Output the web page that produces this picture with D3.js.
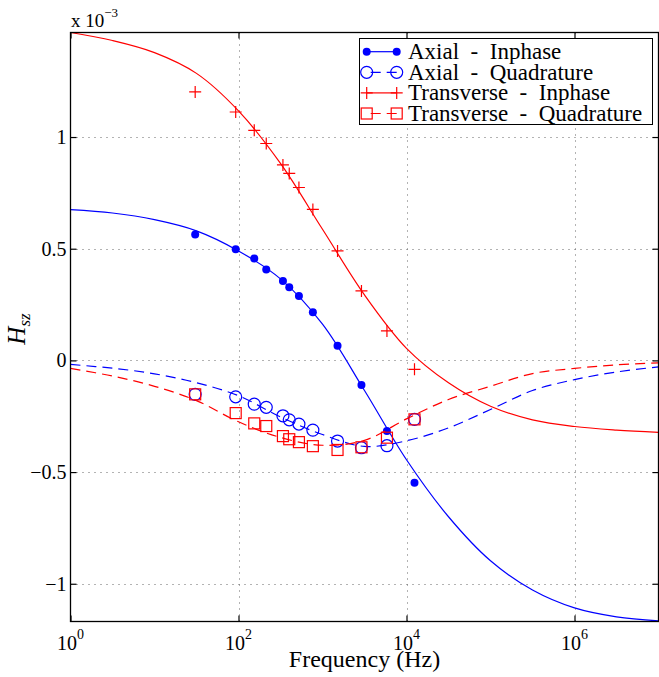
<!DOCTYPE html>
<html>
<head>
<meta charset="utf-8">
<script src="https://cdn.jsdelivr.net/npm/d3@7"></script>
<style>
body { margin: 0; background: #fff; }
svg { display: block; font-family: "Liberation Serif", "Times New Roman", serif; }
</style>
</head>
<body>
<div id="chart"></div>
<script>
// fitted curves, values in units of 1e-3
var curveFreq = [1, 3.16, 10, 31.6, 100, 316, 1000, 3162, 1e4, 31623, 1e5, 316228, 1e6, 3162278, 1e7];
var axialInCurve = [0.675, 0.660, 0.630, 0.580, 0.490, 0.365, 0.162, -0.135, -0.445, -0.700, -0.897, -1.028, -1.108, -1.148, -1.166];
var axialQuadCurve = [-0.018, -0.035, -0.060, -0.100, -0.158, -0.253, -0.332, -0.385, -0.360, -0.302, -0.220, -0.135, -0.086, -0.052, -0.029];
var transInCurve = [1.468, 1.432, 1.378, 1.285, 1.117, 0.882, 0.587, 0.293, 0.054, -0.100, -0.205, -0.266, -0.296, -0.312, -0.322];
var transQuadCurve = [-0.036, -0.070, -0.116, -0.180, -0.275, -0.345, -0.380, -0.358, -0.262, -0.175, -0.116, -0.059, -0.036, -0.020, -0.011];

// measured points
var measFreq = [30.5, 92.6, 154, 214, 338, 402, 524, 768, 1510, 2910, 5850, 12450];
var axialIn = [0.564, 0.498, 0.456, 0.407, 0.356, 0.328, 0.288, 0.215, 0.065, -0.110, -0.316, -0.548];
var axialQuad = [-0.152, -0.163, -0.196, -0.210, -0.248, -0.266, -0.285, -0.312, -0.361, -0.391, -0.382, -0.264];
var transIn = [1.202, 1.112, 1.030, 0.971, 0.875, 0.837, 0.774, 0.676, 0.490, 0.311, 0.132, -0.040];
var transQuad = [-0.152, -0.236, -0.282, -0.294, -0.339, -0.353, -0.366, -0.384, -0.401, -0.389, -0.346, -0.264];

var xTicks = [1, 100, 1e4, 1e6];
var xTickExp = ['0', '2', '4', '6'];
var yTicks = [-1, -0.5, 0, 0.5, 1];
var yTickLabels = ['\u22121', '\u22120.5', '0', '0.5', '1'];
var legendLabels = ['Axial\u00a0 - \u00a0Inphase', 'Axial\u00a0 - \u00a0Quadrature', 'Transverse\u00a0 - \u00a0Inphase', 'Transverse\u00a0 - \u00a0Quadrature'];

var svg_width = 659, svg_height = 677;
var plot_left = 70.5, plot_right = 658.5, plot_top = 32.5, plot_bottom = 621.5;

var svg = d3.select('#chart').append('svg')
	.attr('width', svg_width)
	.attr('height', svg_height);

var x = d3.scaleLog().domain([1, 1e7]).range([plot_left, plot_right]);
var y = d3.scaleLinear().domain([-1.169, 1.468]).range([plot_bottom, plot_top]);

// grid
var grid = svg.append('g')
	.attr('stroke', '#666')
	.attr('stroke-width', 1)
	.attr('stroke-dasharray', '1,5');
grid.selectAll('.gx').data(xTicks.slice(1)).enter().append('line')
	.attr('x1', function(d) { return Math.round(x(d)) + 0.5; })
	.attr('x2', function(d) { return Math.round(x(d)) + 0.5; })
	.attr('y1', plot_top).attr('y2', plot_bottom);
grid.selectAll('.gy').data(yTicks).enter().append('line')
	.attr('x1', plot_left).attr('x2', plot_right)
	.attr('y1', function(d) { return Math.round(y(d)) + 0.5; })
	.attr('y2', function(d) { return Math.round(y(d)) + 0.5; });

var blue = '#0000ff', red = '#ff0000';

var line = d3.line()
	.x(function(d) { return x(d[0]); })
	.y(function(d) { return y(d[1]); })
	.curve(d3.curveCatmullRom.alpha(0.5));

function drawCurve(vals, color, dashed) {
	svg.append('path')
		.datum(d3.zip(curveFreq, vals))
		.attr('d', line)
		.attr('fill', 'none')
		.attr('stroke', color)
		.attr('stroke-width', 1.2)
		.attr('stroke-dasharray', dashed ? '10,6' : null);
}

function drawMarker(g, type, color, px, py) {
	if (type == 'dot') {
		g.append('circle').attr('cx', px).attr('cy', py).attr('r', 4)
			.attr('fill', color);
	} else if (type == 'circle') {
		g.append('circle').attr('cx', px).attr('cy', py).attr('r', 6)
			.attr('fill', 'none').attr('stroke', color).attr('stroke-width', 1.2);
	} else if (type == 'plus') {
		g.append('path')
			.attr('d', 'M' + (px - 6) + ',' + py + 'H' + (px + 6) + 'M' + px + ',' + (py - 6) + 'V' + (py + 6))
			.attr('fill', 'none').attr('stroke', color).attr('stroke-width', 1.2);
	} else {
		g.append('rect').attr('x', px - 5.5).attr('y', py - 5.5)
			.attr('width', 11).attr('height', 11)
			.attr('fill', 'none').attr('stroke', color).attr('stroke-width', 1.2);
	}
}

function drawPoints(vals, type, color) {
	var g = svg.append('g');
	for (var i = 0; i < measFreq.length; i++) {
		drawMarker(g, type, color, x(measFreq[i]), y(vals[i]));
	}
}

drawCurve(axialInCurve, blue, false);
drawPoints(axialIn, 'dot', blue);
drawCurve(axialQuadCurve, blue, true);
drawPoints(axialQuad, 'circle', blue);
drawCurve(transInCurve, red, false);
drawPoints(transIn, 'plus', red);
drawCurve(transQuadCurve, red, true);
drawPoints(transQuad, 'square', red);

// axes box with inward ticks
function tickAxis(axis, tx, ty) {
	var g = svg.append('g')
		.attr('transform', 'translate(' + tx + ',' + ty + ')')
		.call(axis);
	g.select('.domain').remove();
	g.selectAll('line').attr('stroke', '#000').attr('stroke-width', 1.2);
	return g;
}

var yAxis = tickAxis(d3.axisLeft(y).tickValues(yTicks).tickSize(-6).tickPadding(4)
	.tickFormat(function(d, i) { return yTickLabels[i]; }), plot_left, 0);
yAxis.selectAll('text')
	.attr('font-family', '"Liberation Serif", serif')
	.attr('font-size', 20)
	.attr('fill', '#000');
tickAxis(d3.axisRight(y).tickValues(yTicks).tickSize(-6).tickFormat(''), plot_right, 0);
tickAxis(d3.axisBottom(x).tickValues(xTicks).tickSize(-6).tickFormat(''), 0, plot_bottom);
tickAxis(d3.axisTop(x).tickValues(xTicks).tickSize(-6).tickFormat(''), 0, plot_top);

svg.append('rect')
	.attr('x', plot_left).attr('y', plot_top)
	.attr('width', plot_right - plot_left).attr('height', plot_bottom - plot_top)
	.attr('fill', 'none').attr('stroke', '#000').attr('stroke-width', 1.3);

// x tick labels 10^n
xTicks.forEach(function(d, i) {
	var t = svg.append('text')
		.attr('x', x(d)).attr('y', 650)
		.attr('text-anchor', 'middle')
		.attr('font-size', 20);
	t.append('tspan').text('10');
	t.append('tspan').attr('dy', -11).attr('font-size', 14).text(xTickExp[i]);
});

// multiplier
var mult = svg.append('text').attr('x', 71).attr('y', 27).attr('font-size', 19);
mult.append('tspan').text('x 10');
mult.append('tspan').attr('dy', -10).attr('font-size', 13).text('\u22123');

svg.append('text')
	.attr('x', (plot_left + plot_right) / 2).attr('y', 667)
	.attr('text-anchor', 'middle')
	.attr('font-size', 24)
	.text('Frequency (Hz)');

var ylab = svg.append('text')
	.attr('transform', 'translate(25,329) rotate(-90)')
	.attr('text-anchor', 'middle')
	.attr('font-style', 'italic')
	.attr('font-size', 25);
ylab.append('tspan').text('H');
ylab.append('tspan').attr('dy', 5).attr('font-size', 17).text('sz');

// legend
var lg = svg.append('g');
lg.append('rect')
	.attr('x', 359.5).attr('y', 38.5)
	.attr('width', 293).attr('height', 86)
	.attr('fill', '#fff').attr('stroke', '#000').attr('stroke-width', 1);

var legendItems = [
	{ color: blue, type: 'dot', dashed: false },
	{ color: blue, type: 'circle', dashed: true },
	{ color: red, type: 'plus', dashed: false },
	{ color: red, type: 'square', dashed: true }
];

legendItems.forEach(function(item, i) {
	var ry = 51.7 + i * 20.6;
	lg.append('line')
		.attr('x1', 366.7).attr('x2', 396.7)
		.attr('y1', ry).attr('y2', ry)
		.attr('stroke', item.color).attr('stroke-width', 1.2)
		.attr('stroke-dasharray', item.dashed ? '10,6' : null)
		.attr('stroke-dashoffset', item.dashed ? -4 : null);
	drawMarker(lg, item.type, item.color, 366.7, ry);
	drawMarker(lg, item.type, item.color, 396.7, ry);
	lg.append('text')
		.attr('x', 408).attr('y', ry + 7.5)
		.attr('font-size', 23)
		.text(legendLabels[i]);
});
</script>
</body>
</html>
